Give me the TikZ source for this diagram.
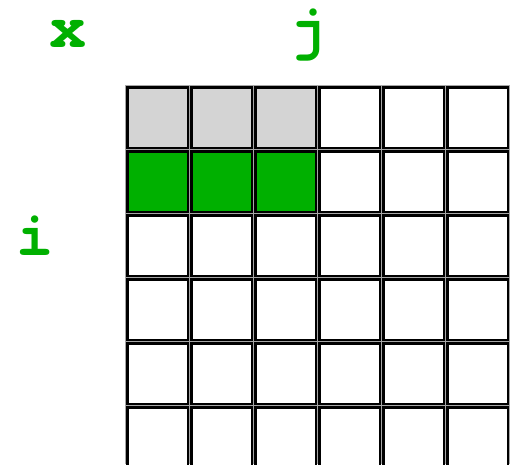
\documentclass[tikz,border=0pt]{standalone}
\usepackage{fontspec}
\setmonofont{texgyrecursor-bold.otf}
\definecolor{grn}{HTML}{00B000}
\definecolor{lgray}{HTML}{D4D4D4}
\begin{document}
\begin{tikzpicture}[x=1pt,y=-1pt,
  cellbox/.style={draw=black,line width=2.6pt},
  lbl/.style={text=grn,font=\fontsize{62}{62}\selectfont\ttfamily,anchor=base,inner sep=0pt,text height=0.66em,text depth=0.2em}]
\useasboundingbox (0,0) rectangle (510,464);
\fill[gray!70] (124.5,84.5) rectangle (509.5,464);
\foreach \r in {0,...,5}{
  \foreach \c in {0,...,5}{
    \pgfmathsetmacro{\xo}{125+64*\c}
    \pgfmathsetmacro{\yo}{85+64*\r}
    \ifnum\r=0 \ifnum\c<3 \def\fc{lgray}\else\def\fc{white}\fi
    \else\ifnum\r=1 \ifnum\c<3 \def\fc{grn}\else\def\fc{white}\fi
    \else\def\fc{white}\fi\fi
    \begin{scope}
    \clip (0,0) rectangle (510,464);
    \node[cellbox,fill=\fc,minimum size=60.4pt,inner sep=0pt,anchor=north west] (c\r\c) at (\xo+1.3,\yo+1.3) {};
    \end{scope}
  }
}
\node[lbl] (lx) at (68,47) {x};
\node[lbl] (lj) at (308,48) {j};
\node[lbl] (li) at (35,255) {i};
\end{tikzpicture}
\end{document}
